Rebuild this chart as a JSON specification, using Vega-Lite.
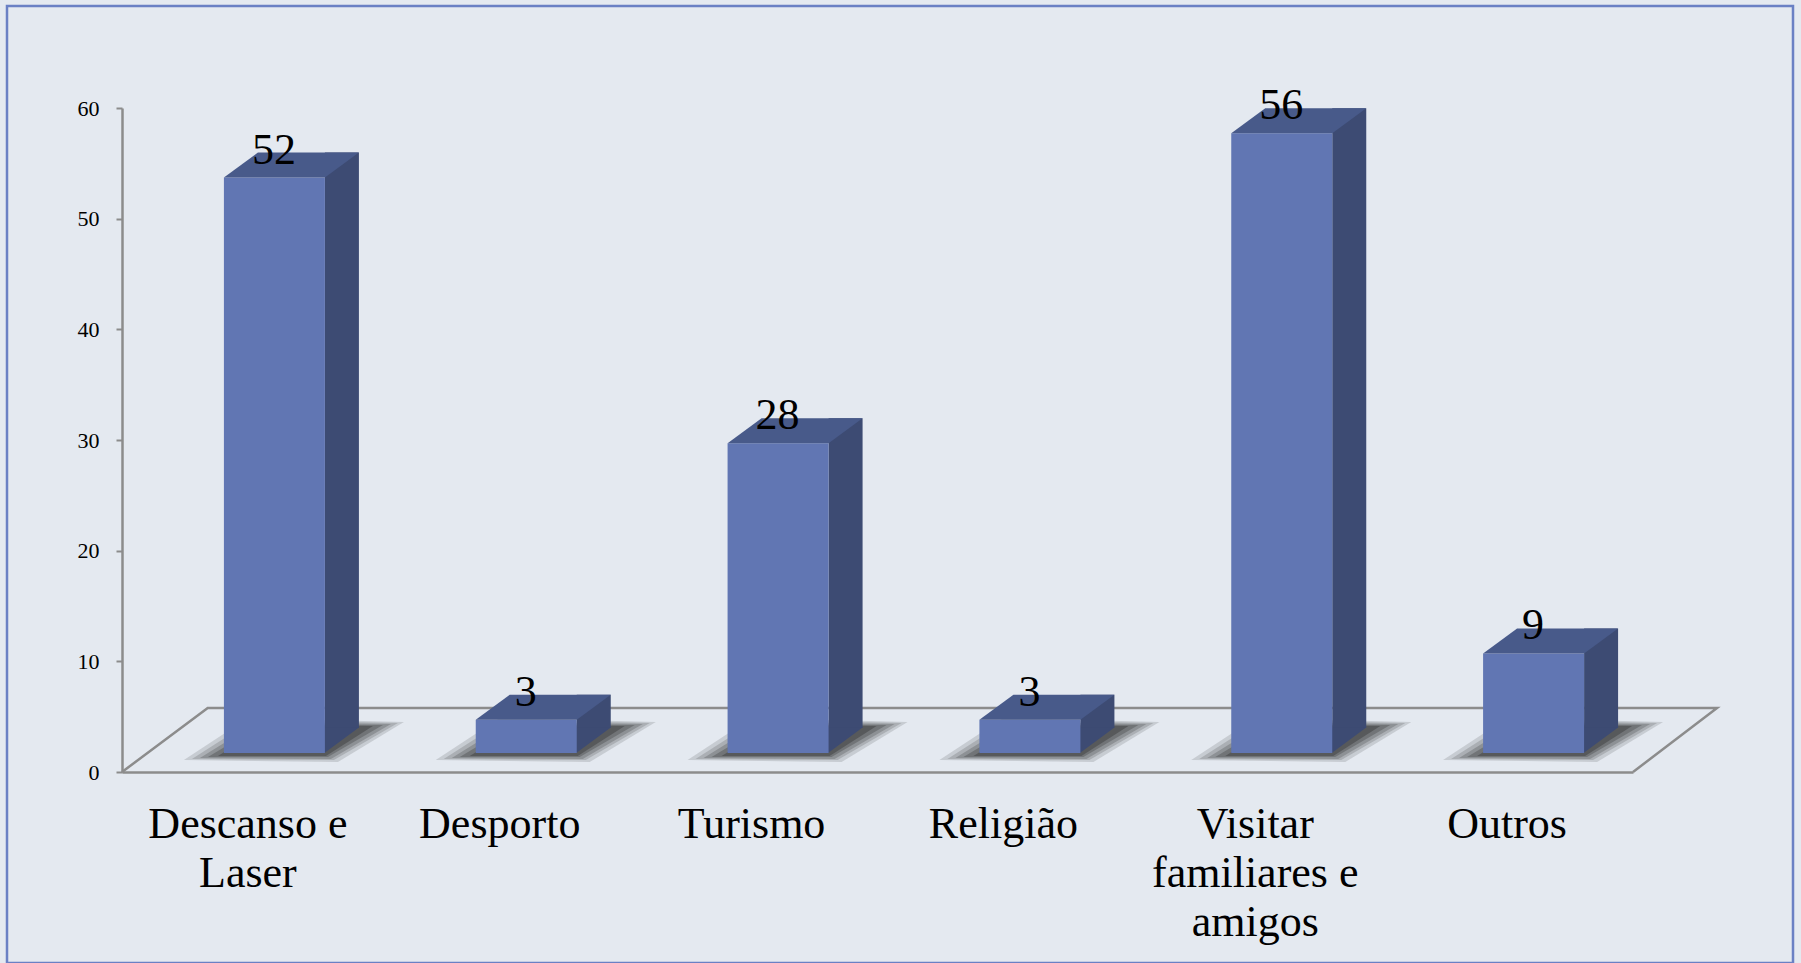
{
  "$schema": "https://vega.github.io/schema/vega-lite/v6.json",
  "width": 1786,
  "height": 957,
  "autosize": {"type": "none"},
  "padding": {"left": 7, "top": 6, "right": 8, "bottom": 0},
  "background": "#e4e9f0",
  "config": {"view": {"stroke": "#6a80c4", "strokeWidth": 2.5}},
  "datasets": {
    "motivos": [
      {"motivo": "Descanso e Laser", "valor": 52},
      {"motivo": "Desporto", "valor": 3},
      {"motivo": "Turismo", "valor": 28},
      {"motivo": "Religião", "valor": 3},
      {"motivo": "Visitar familiares e amigos", "valor": 56},
      {"motivo": "Outros", "valor": 9}
    ],
    "chao": [
      {"motivo": "Descanso e Laser", "valor": 0}
    ]
  },
  "data": {"name": "motivos"},
  "encoding": {
    "x": {
      "field": "motivo", "type": "nominal", "sort": null,
      "scale": {"paddingInner": 0, "paddingOuter": 0, "range": [115, 1626]},
      "axis": {
        "title": null, "labelAngle": 0, "ticks": false, "offset": -191,
        "labelFont": "Liberation Serif", "labelFontSize": 44, "labelColor": "#000000",
        "labelPadding": 30, "labelLineHeight": 49, "labelLimit": 400,
        "labelOverlap": false, "labelBound": false,
        "domainColor": "#8c8c8c", "domainWidth": 2.5,
        "labelExpr": "datum.value == 'Descanso e Laser' ? ['Descanso e', 'Laser'] : datum.value == 'Visitar familiares e amigos' ? ['Visitar', 'familiares e', 'amigos'] : datum.label"
      }
    },
    "y": {
      "field": "valor", "type": "quantitative",
      "scale": {"domain": [0, 60], "nice": false, "range": [766, 102]},
      "axis": {
        "title": null, "grid": false, "values": [0, 10, 20, 30, 40, 50, 60], "offset": -115,
        "labelFont": "Liberation Serif", "labelFontSize": 22, "labelColor": "#000000",
        "labelPadding": 17, "tickSize": 6, "tickColor": "#8c8c8c", "tickWidth": 2,
        "domainColor": "#8c8c8c", "domainWidth": 2.5
      }
    }
  },
  "layer": [
    {
      "data": {"name": "chao"},
      "mark": {"type": "point", "filled": false, "opacity": 1, "fill": "transparent", "stroke": "#8c8c8c", "strokeWidth": 2.5, "size": 40000,
               "shape": "M -1.259 0 L -0.402 -0.64 L 14.691 -0.64 L 13.851 0"}
    },
    {
      "mark": {"type": "point", "filled": true, "opacity": 0.14, "color": "#1a1a1a", "strokeWidth": 0, "size": 40000,
               "shape": "M -0.64 -0.12 L 0.90 -0.10 L 1.56 -0.50 L 0.0 -0.54 Z"},
      "encoding": {"y": {"datum": 0, "type": "quantitative"}}
    },
    {
      "mark": {"type": "point", "filled": true, "opacity": 0.16, "color": "#1a1a1a", "strokeWidth": 0, "size": 40000,
               "shape": "M -0.56 -0.13 L 0.86 -0.12 L 1.50 -0.49 L 0.05 -0.52 Z"},
      "encoding": {"y": {"datum": 0, "type": "quantitative"}}
    },
    {
      "mark": {"type": "point", "filled": true, "opacity": 0.2, "color": "#1a1a1a", "strokeWidth": 0, "size": 40000,
               "shape": "M -0.48 -0.14 L 0.83 -0.13 L 1.43 -0.48 L 0.10 -0.50 Z"},
      "encoding": {"y": {"datum": 0, "type": "quantitative"}}
    },
    {
      "mark": {"type": "point", "filled": true, "opacity": 0.24, "color": "#1a1a1a", "strokeWidth": 0, "size": 40000,
               "shape": "M -0.40 -0.15 L 0.80 -0.15 L 1.35 -0.47 L 0.15 -0.48 Z"},
      "encoding": {"y": {"datum": 0, "type": "quantitative"}}
    },
    {
      "mark": {"type": "point", "filled": true, "opacity": 0.3, "color": "#1a1a1a", "strokeWidth": 0, "size": 40000,
               "shape": "M -0.30 -0.16 L 0.78 -0.16 L 1.25 -0.46 L 0.20 -0.47 Z"},
      "encoding": {"y": {"datum": 0, "type": "quantitative"}}
    },
    {
      "mark": {"type": "bar", "color": "#3d4b73", "width": 34, "xOffset": 94, "yOffset": -44, "y2Offset": -44},
      "encoding": {"y2": {"datum": 0}}
    },
    {
      "mark": {"type": "point", "filled": true, "opacity": 1, "color": "#3d4b73", "strokeWidth": 0, "size": 40000,
               "shape": "M 0.765 -0.19 L 0.765 -0.445 L 1.11 -0.445 Z"},
      "encoding": {"y": {"datum": 0, "type": "quantitative"}}
    },
    {
      "mark": {"type": "bar", "color": "#6176b3", "width": 101, "xOffset": 26.5, "yOffset": -19, "y2Offset": -19},
      "encoding": {"y2": {"datum": 0}}
    },
    {
      "mark": {"type": "point", "filled": true, "opacity": 1, "color": "#485a8a", "strokeWidth": 0, "size": 40000,
               "shape": "M -0.24 -0.19 L 0.77 -0.19 L 1.11 -0.44 L 0.10 -0.44 Z"}
    },
    {
      "mark": {"type": "text", "font": "Liberation Serif", "fontSize": 44, "color": "#000000",
               "dx": 26, "dy": -33, "baseline": "alphabetic", "align": "center"},
      "encoding": {"text": {"field": "valor", "type": "quantitative"}}
    }
  ]
}
